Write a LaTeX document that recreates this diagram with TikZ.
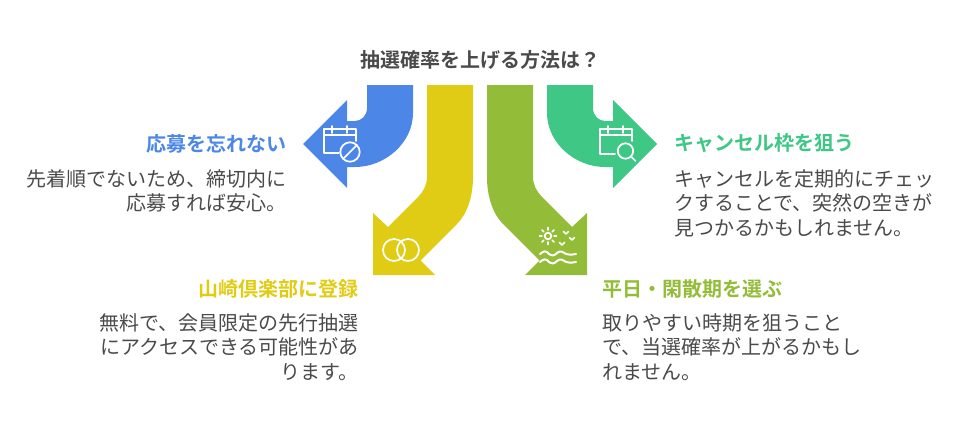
\documentclass[tikz,border=0pt]{standalone}
\usepackage{fontspec}
\setmainfont{Noto Sans CJK JP}
\newfontfamily\jpbold[BoldFont={Noto Sans CJK JP Bold}]{Noto Sans CJK JP Bold}
\definecolor{bluefill}{HTML}{4C87E8}
\definecolor{yellowfill}{HTML}{E0CC14}
\definecolor{olivefill}{HTML}{93BC38}
\definecolor{tealfill}{HTML}{3EC785}
\definecolor{greytext}{HTML}{4A4A4A}
\tikzset{
    headtext/.style={font=\jpbold\fontsize{15}{18}\selectfont, inner sep=0pt},
    bodytext/.style={font=\fontsize{15}{18.4}\selectfont, text=greytext, inner sep=0pt},
    iconline/.style={draw=white, line width=1.3pt, line cap=round, line join=round}
}

\begin{document}
\begin{tikzpicture}[x=0.75pt, y=-0.75pt]
    \useasboundingbox (0,0) rectangle (960,432);
    % Title
    \node[headtext, text=greytext] (title) at (480,59.5) {抽選確率を上げる方法は？};
    % Blue arrow, bending left
    \fill[bluefill] (367,85) -- (413,85) -- (413,113) .. controls (413,143) and (385,167) .. (355,167)
        -- (347,167) -- (347,188) -- (303,144) -- (347,100) -- (347,121) -- (355,121)
        .. controls (361,121) and (367,116) .. (367,108) -- cycle;
    % Yellow arrow, bending down left
    \fill[yellowfill] (427,85) -- (473,85) -- (473,177) .. controls (473,197) and (467,214) .. (457,224)
        -- (420.5,260.5) -- (435,275) -- (373,275) -- (373,213) -- (388,227) -- (418,197)
        .. controls (423,192) and (427,185) .. (427,177) -- cycle;
    % Olive arrow, bending down right
    \fill[olivefill] (533,85) -- (487,85) -- (487,177) .. controls (487,197) and (493,214) .. (503,224)
        -- (539.5,260.5) -- (525,275) -- (587,275) -- (587,213) -- (572,227) -- (542,197)
        .. controls (537,192) and (533,185) .. (533,177) -- cycle;
    % Teal arrow, bending right
    \fill[tealfill] (593,85) -- (547,85) -- (547,113) .. controls (547,143) and (575,167) .. (605,167)
        -- (613,167) -- (613,188) -- (657,144) -- (613,100) -- (613,121) -- (605,121)
        .. controls (599,121) and (593,116) .. (593,108) -- cycle;
    % Calendar with a stop sign
    \draw[iconline] (339,153) -- (324,153) -- (324,129) -- (356,129) -- (356,141);
    \draw[iconline] (324,135) -- (356,135);
    \foreach \x in {332,347} {
        \draw[iconline] (\x,126) -- (\x,133);
    }
    \draw[iconline] (350,152) circle[radius=9.7];
    \draw[iconline] (343.5,158.5) -- (356.5,145.5);
    % Calendar with a magnifier
    \draw[iconline] (615,154) -- (600,154) -- (600,129) -- (632,129) -- (632,141);
    \draw[iconline] (600,135) -- (632,135);
    \foreach \x in {608,623} {
        \draw[iconline] (\x,126) -- (\x,133);
    }
    \draw[iconline] (625.5,151) circle[radius=7.7];
    \draw[iconline] (631,156.5) -- (635.5,161);
    % Two rings
    \draw[iconline] (394,250) circle[radius=11];
    \draw[iconline] (408,250) circle[radius=11];
    % Sun, birds and waves
    \draw[iconline] (548,236) circle[radius=3.3];
    \foreach \a in {0,45,...,315} {
        \draw[iconline] (548,236) ++(\a:6) -- ++(\a:2.5);
    }
    \foreach \x/\y in {566/233, 572/239, 562/244} {
        \draw[iconline] (\x-2.5,\y-1.5) -- (\x,\y+1) -- (\x+2.5,\y-1.5);
    }
    \foreach \y in {254,262} {
        \draw[iconline, line width=1.5pt] (540,\y) .. controls (544,\y-3.5) and (546,\y-3.5) .. (549,\y)
            .. controls (552,\y+2) and (554,\y+2) .. (557,\y-1)
            .. controls (560,\y-4) and (563,\y-2) .. (566,\y)
            .. controls (569,\y+1.5) and (572,\y+0.5) .. (576,\y);
    }
    % Labels
    \node[headtext, text=bluefill, anchor=east] (bluehead) at (287,143.5) {応募を忘れない};
    \node[bodytext, anchor=north east, align=right] (bluebody) at (287,169) {先着順でないため、締切内に\\応募すれば安心。};
    \node[headtext, text=tealfill, anchor=west] (tealhead) at (674,143.5) {キャンセル枠を狙う};
    \node[bodytext, anchor=north west, align=left] (tealbody) at (674,169) {キャンセルを定期的にチェッ\\クすることで、突然の空きが\\見つかるかもしれません。};
    \node[headtext, text=yellowfill, anchor=east] (yellowhead) at (359,288.5) {山崎倶楽部に登録};
    \node[bodytext, anchor=north east, align=right] (yellowbody) at (359,313) {無料で、会員限定の先行抽選\\にアクセスできる可能性があ\\ります。};
    \node[headtext, text=olivefill, anchor=west] (olivehead) at (602,288.5) {平日・閑散期を選ぶ};
    \node[bodytext, anchor=north west, align=left] (olivebody) at (602,313) {取りやすい時期を狙うこと\\で、当選確率が上がるかもし\\れません。};
\end{tikzpicture}
\end{document}
